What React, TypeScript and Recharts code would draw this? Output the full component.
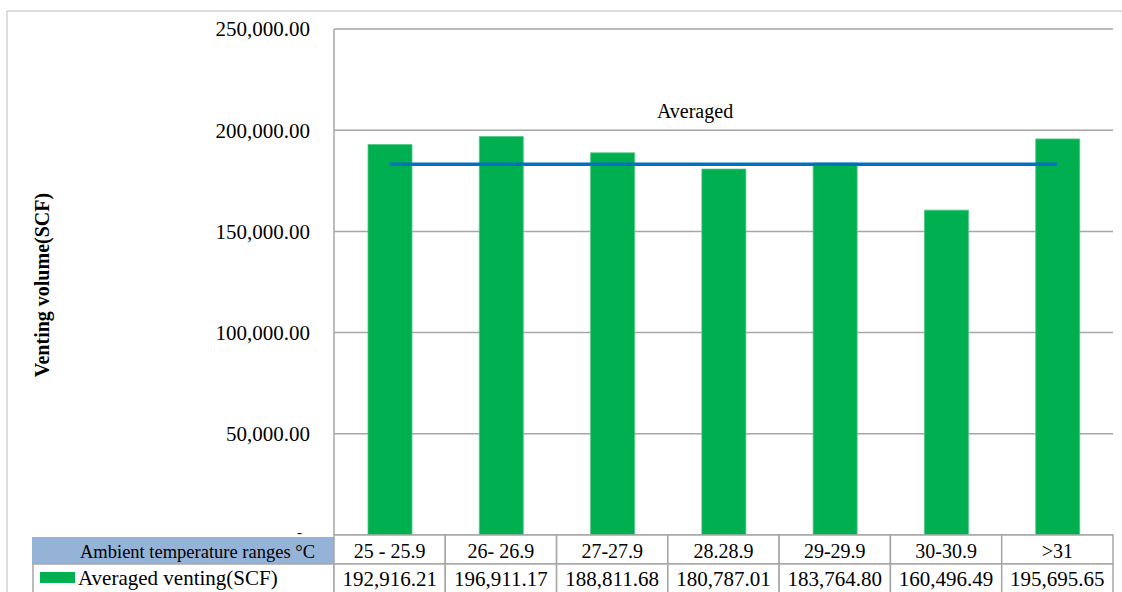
import React from "react";
import { ComposedChart, Bar, Line, XAxis, YAxis, CartesianGrid, Customized } from "recharts";

const categories = ["25 - 25.9", "26- 26.9", "27-27.9", "28.28.9", "29-29.9", "30-30.9", ">31"];
const ventingValues = [192916.21, 196911.17, 188811.68, 180787.01, 183764.8, 160496.49, 195695.65];
const averagedLine = [183200, 183200, 183200, 183200, 183200, 183200, 183200];
const yTicks = [0, 50000, 100000, 150000, 200000, 250000];
const rowLabels = ["Ambient temperature ranges \u00B0C", "Averaged venting(SCF)"];
const yTitle = "Venting volume(SCF)";
const lineLabel = "Averaged";

const data = categories.map((c, i) => ({ cat: c, venting: ventingValues[i], avg: averagedLine[i] }));

const W = 1122;
const H = 592;
const PLOT_LEFT = 334;
const PLOT_RIGHT = 1113;
const FONT = '"Liberation Serif", "Times New Roman", serif';
const BORDER = "#A6A6A6";

const fmt = (v: number) =>
  v.toLocaleString("en-US", { minimumFractionDigits: 2, maximumFractionDigits: 2 });

const YTick = (props: any) => {
  const { y, payload } = props;
  const v = payload.value as number;
  if (v === 0) {
    return (
      <text x={302} y={y + 2} textAnchor="end" fontFamily={FONT} fontSize={15} fill="#000">
        -
      </text>
    );
  }
  return (
    <text x={310} y={y} dy="0.35em" textAnchor="end" fontFamily={FONT} fontSize={21} fill="#000">
      {fmt(v)}
    </text>
  );
};

const XTick = (props: any) => {
  const { x, y, payload, index } = props;
  const cw = (PLOT_RIGHT - PLOT_LEFT) / categories.length;
  const r1 = y;
  const r2 = 564;
  const r3 = 593;
  return (
    <g>
      <rect x={x - cw / 2} y={r1} width={cw} height={r2 - r1} fill="#fff" stroke={BORDER} strokeWidth={1.5} />
      <rect x={x - cw / 2} y={r2} width={cw} height={r3 - r2} fill="#fff" stroke={BORDER} strokeWidth={1.5} />
      <text x={x} y={(r1 + r2) / 2 + 1} dy="0.35em" textAnchor="middle" fontFamily={FONT} fontSize={20} fill="#000">
        {payload.value}
      </text>
      <text x={x} y={(r2 + r3) / 2} dy="0.35em" textAnchor="middle" fontFamily={FONT} fontSize={21} fill="#000">
        {fmt(ventingValues[index])}
      </text>
    </g>
  );
};

const Extras = () => (
  <g>
    <line x1={7} y1={11} x2={W} y2={11} stroke="#D0D0D0" strokeWidth={1.5} />
    <line x1={7} y1={11} x2={7} y2={H} stroke="#D0D0D0" strokeWidth={1.5} />
    <text
      x={42}
      y={285}
      transform="rotate(-90 42 285)"
      textAnchor="middle"
      dominantBaseline="central"
      fontFamily={FONT}
      fontSize={20}
      fontWeight="bold"
      fill="#000"
    >
      {yTitle}
    </text>
    <text x={695} y={111} dy="0.35em" textAnchor="middle" fontFamily={FONT} fontSize={20} fill="#000">
      {lineLabel}
    </text>
    <rect x={32} y={537} width={PLOT_LEFT - 32} height={27} fill="#95B3D7" />
    <text x={80} y={552} dy="0.35em" fontFamily={FONT} fontSize={18.5} fill="#000">
      {rowLabels[0]}
    </text>
    <rect x={33} y={564} width={PLOT_LEFT - 33} height={30} fill="#fff" stroke={BORDER} strokeWidth={1.5} />
    <rect x={40} y={572} width={35} height={11} fill="#00B050" />
    <text x={78} y={578} dy="0.35em" fontFamily={FONT} fontSize={21} fill="#000">
      {rowLabels[1]}
    </text>
  </g>
);

export default function App() {
  return (
    <div style={{ position: "absolute", left: 0, top: 0, width: W, height: H, background: "#fff" }}>
      <ComposedChart
        width={W}
        height={H}
        data={data}
        margin={{ top: 29, right: W - PLOT_RIGHT, bottom: 0, left: 0 }}
        barCategoryGap={0}
      >
        <CartesianGrid vertical={false} stroke={BORDER} strokeWidth={1.5} />
        <XAxis
          dataKey="cat"
          height={57}
          axisLine={false}
          tickLine={false}
          tickSize={0}
          tickMargin={0}
          interval={0}
          tick={<XTick />}
        />
        <YAxis
          width={PLOT_LEFT}
          domain={[0, 250000]}
          ticks={yTicks}
          axisLine={{ stroke: BORDER, strokeWidth: 1.5 }}
          tickLine={false}
          tick={<YTick />}
          interval={0}
        />
        <Bar dataKey="venting" fill="#00B050" stroke="#4CC77F" strokeWidth={0.8} barSize={44} isAnimationActive={false} />
        <Line dataKey="avg" stroke="#0070C0" strokeWidth={3.5} dot={false} isAnimationActive={false} />
        <Customized component={Extras} />
      </ComposedChart>
    </div>
  );
}
